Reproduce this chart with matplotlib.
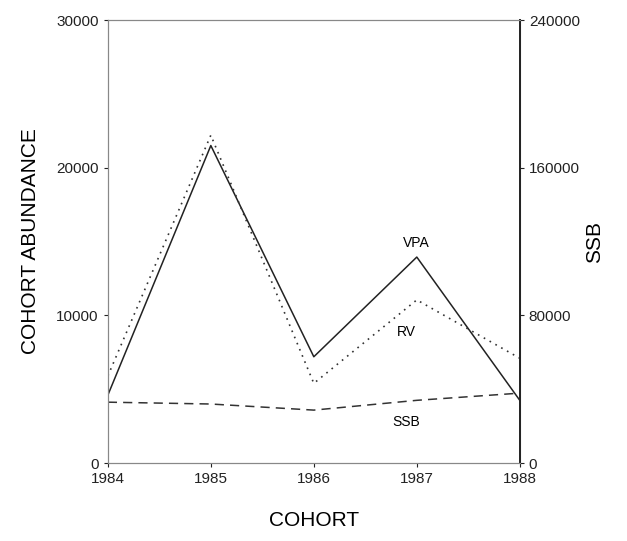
import matplotlib
matplotlib.use("Agg")
import matplotlib.pyplot as plt

plt.rcParams.update({"font.family": ["Liberation Sans", "DejaVu Sans"]})

cohort = [1984, 1985, 1986, 1987, 1988]
vpa = [4600, 21500, 7200, 13950, 4250]
rv = [5900, 22200, 5400, 11050, 7100]
ssb = [33000, 32000, 28700, 34000, 37900]

fig = plt.figure(figsize=(6.27, 5.41), dpi=100)
ax = fig.add_axes([0.172, 0.144, 0.657, 0.819])
ax2 = ax.twinx()

ax.plot(cohort, vpa, color="#222222", lw=1.1, ls="-")
ax.plot(cohort, rv, color="#333333", lw=1.2, ls=(0, (1, 3)))
ax2.plot(cohort, ssb, color="#333333", lw=1.1, ls=(0, (6, 4)))

ax.set_xlim(1984, 1988)
ax.set_ylim(0, 30000)
ax2.set_ylim(0, 240000)
ax.set_xticks(cohort)
ax.set_yticks([0, 10000, 20000, 30000])
ax2.set_yticks([0, 80000, 160000, 240000])

for a in (ax, ax2):
    a.tick_params(labelsize=11, length=3, width=0.8, colors="#222222")
    for s in a.spines.values():
        s.set_color("#888888")
        s.set_linewidth(0.8)
ax2.spines["right"].set_color("#222222")
ax2.spines["right"].set_linewidth(1.4)

ax.set_xlabel("COHORT", fontsize=15, labelpad=18)
ax.set_ylabel("COHORT ABUNDANCE", fontsize=15, labelpad=12)
ax2.set_ylabel("SSB", fontsize=15, labelpad=4)

ax.text(1987.0, 14400, "VPA", fontsize=10, ha="center", va="bottom")
ax.text(1986.9, 8900, "RV", fontsize=10, ha="center", va="center")
ax.text(1986.9, 2800, "SSB", fontsize=10, ha="center", va="center")

fig.savefig("out.png", dpi=100)
